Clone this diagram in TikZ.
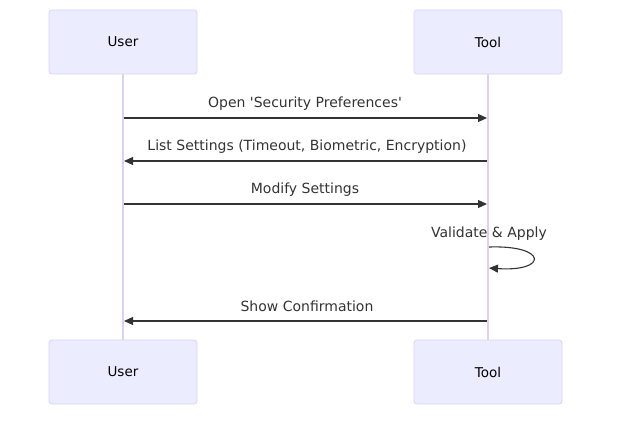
\documentclass[tikz,border=0pt]{standalone}
\usepackage{fontspec}
\setmainfont{DejaVu Sans}
\usetikzlibrary{arrows.meta}
\definecolor{actbg}{HTML}{ECECFF}
\definecolor{actbd}{HTML}{DCD0F5}
\definecolor{msg}{HTML}{333333}
\tikzset{
  actor/.style={draw=actbd, fill=actbg, rounded corners=3pt, minimum width=148pt, minimum height=64pt, inner sep=0pt, font=\fontsize{13.5}{16}\selectfont, text=black, line width=0.8pt},
  life/.style={draw=actbd, line width=1.2pt},
  msgline/.style={draw=msg, line width=1.1pt, -{Triangle[length=9pt,width=8pt]}},
  lbl/.style={font=\fontsize{14}{16}\selectfont, text=msg, inner sep=0pt},
}
\begin{document}
\begin{tikzpicture}[x=1pt,y=-1pt]
\useasboundingbox (0,0) rectangle (621,421);
\node[actor] (u1) at (123,42) {User};
\node[actor] (t1) at (488,42) {Tool};
\node[actor] (u2) at (123,372) {User};
\node[actor] (t2) at (488,372) {Tool};
\draw[life] (u1.south) -- (u2.north);
\draw[life] (t1.south) -- (t2.north);
\coordinate (ua) at (124,118); \coordinate (ta) at (487,118);
\coordinate (ub) at (124,161); \coordinate (tb) at (487,161);
\coordinate (uc) at (124,204); \coordinate (tc) at (487,204);
\coordinate (ud) at (124,321); \coordinate (td) at (487,321);
\coordinate (sa) at (489,247); \coordinate (sb) at (489,268);
\draw[msgline] (ua) -- (ta);
\draw[msgline] (tb) -- (ub);
\draw[msgline] (uc) -- (tc);
\draw[msgline] (td) -- (ud);
\draw[msgline] (sa) .. controls (548,245) and (548,272) .. (sb);
\node[lbl] (l1) at (305,104) {Open \textquotesingle Security Preferences\textquotesingle};
\node[lbl] (l2) at (307,147) {List Settings (Timeout, Biometric, Encryption)};
\node[lbl] (l3) at (305,190) {Modify Settings};
\node[lbl] (l4) at (489,234) {Validate \& Apply};
\node[lbl] (l5) at (307,306) {Show Confirmation};
\end{tikzpicture}
\end{document}
